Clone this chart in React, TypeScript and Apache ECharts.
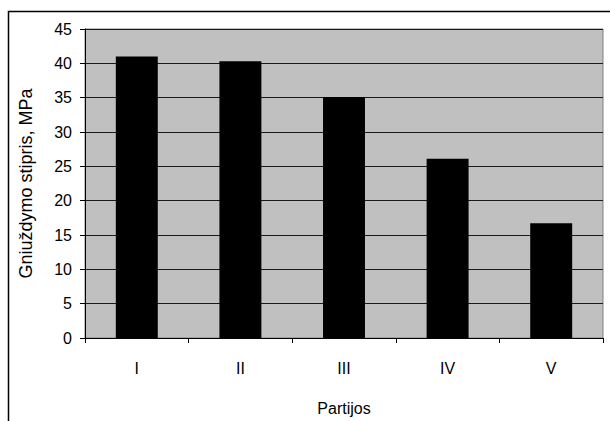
import React, { useEffect, useRef } from "react";
import * as echarts from "echarts";

const categories = ["I", "II", "III", "IV", "V"];
const strengthValues = [41.0, 40.3, 35.1, 26.1, 16.7];
const yAxisTitle = "Gniuždymo stipris, MPa";
const xAxisTitle = "Partijos";

export default function App() {
  const ref = useRef<HTMLDivElement>(null);
  useEffect(() => {
    if (!ref.current) return;
    const chart = echarts.init(ref.current, undefined, { renderer: "svg" });
    const font = "'Liberation Sans', Arial, sans-serif";
    chart.setOption({
      animation: false,
      backgroundColor: "#ffffff",
      textStyle: { fontFamily: font },
      graphic: [
        {
          type: "rect",
          shape: { x: 8.5, y: 11.5, width: 700, height: 500 },
          style: { fill: "none", stroke: "#000", lineWidth: 1.5 },
          z: 100,
        },
      ],
      grid: {
        left: 85,
        top: 29,
        right: 7,
        bottom: 80,
        show: true,
        backgroundColor: "#C0C0C0",
        borderColor: "#808080",
        borderWidth: 1,
      },
      xAxis: {
        type: "category",
        data: categories,
        name: xAxisTitle,
        nameLocation: "middle",
        nameGap: 62,
        nameTextStyle: { color: "#000", fontSize: 16, fontFamily: font },
        axisLine: { show: true, lineStyle: { color: "#000", width: 1 } },
        axisTick: { show: true, alignWithLabel: false, length: 5, lineStyle: { color: "#000" } },
        axisLabel: { color: "#000", fontSize: 16, margin: 22, fontFamily: font },
        splitLine: { show: false },
      },
      yAxis: {
        type: "value",
        min: 0,
        max: 45,
        interval: 5,
        name: yAxisTitle,
        nameLocation: "middle",
        nameRotate: 90,
        nameGap: 50,
        nameTextStyle: { color: "#000", fontSize: 18, fontFamily: font },
        axisLine: { show: true, lineStyle: { color: "#000", width: 1 } },
        axisTick: { show: true, inside: false, length: 5, lineStyle: { color: "#000" } },
        axisLabel: { color: "#000", fontSize: 16, margin: 13, fontFamily: font },
        splitLine: { show: true, lineStyle: { color: "#1a1a1a", width: 1 } },
      },
      series: [
        {
          type: "bar",
          data: strengthValues,
          barWidth: "40.5%",
          itemStyle: { color: "#000" },
        },
      ],
    });
    return () => chart.dispose();
  }, []);
  return (
    <div
      ref={ref}
      style={{ position: "absolute", left: 0, top: 0, width: 610, height: 421 }}
    />
  );
}
